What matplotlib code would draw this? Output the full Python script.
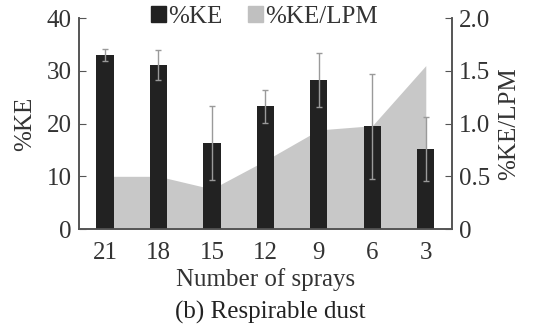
import numpy as np
import matplotlib
matplotlib.use("Agg")
import matplotlib.pyplot as plt
from matplotlib.patches import Patch

plt.rcParams["font.family"] = ["Liberation Serif", "DejaVu Serif"]

sprays = ["21", "18", "15", "12", "9", "6", "3"]
ke = [33.0, 31.1, 16.3, 23.3, 28.2, 19.5, 15.2]
ke_err = [1.2, 2.9, 7.0, 3.1, 5.1, 10.0, 6.0]
ke_lpm = [0.50, 0.50, 0.38, 0.65, 0.94, 0.98, 1.55]

x = np.arange(len(sprays))
fs = 18

fig = plt.figure(figsize=(5.4, 3.3), dpi=100)
ax = fig.add_axes([0.146, 0.306, 0.691, 0.639])
ax2 = ax.twinx()

# grey area on the right axis, behind the bars
ax2.fill_between(x, 0, ke_lpm, color="#c8c8c8", linewidth=0)
ax2.set_ylim(0, 2.0)
ax2.set_yticks([0, 0.5, 1.0, 1.5, 2.0])
ax2.set_yticklabels(["0", "0.5", "1.0", "1.5", "2.0"])
ax2.set_ylabel("%KE/LPM", fontsize=fs, color="#333333", labelpad=6)

ax.set_zorder(ax2.get_zorder() + 1)
ax.patch.set_visible(False)

ax.bar(x, ke, width=0.32, color="#222222", zorder=2)
ax.errorbar(x, ke, yerr=ke_err, fmt="none", ecolor="#9a9a9a", elinewidth=1,
            capsize=2.5, capthick=1, zorder=3)
ax.set_xlim(-0.49, 6.49)
ax.set_ylim(0, 40)
ax.set_yticks([0, 10, 20, 30, 40])
ax.set_xticks(x)
ax.set_xticklabels(sprays)
ax.set_ylabel("%KE", fontsize=fs, color="#333333", labelpad=8)
ax.set_xlabel("Number of sprays", fontsize=fs, color="#333333", labelpad=3)

for a in (ax, ax2):
    a.spines["top"].set_visible(False)
    for s in ("left", "right", "bottom"):
        a.spines[s].set_color("#555555")
        a.spines[s].set_linewidth(1.2)
ax.tick_params(axis="y", direction="in", length=5, color="#555555",
               labelsize=fs, labelcolor="#333333", pad=5)
ax2.tick_params(axis="y", direction="in", length=5, color="#555555",
                labelsize=fs, labelcolor="#333333", pad=5)
ax.tick_params(axis="x", length=0, labelsize=fs, labelcolor="#333333", pad=9)

handles = [Patch(color="#222222", label="%KE"),
           Patch(color="#c0c0c0", label="%KE/LPM")]
fig.legend(handles=handles, loc="center", bbox_to_anchor=(0.49, 0.948),
           ncol=2, frameon=False, fontsize=fs, handlelength=0.6,
           handleheight=0.6, handletextpad=0.1, columnspacing=1.0,
           labelcolor="#333333")

fig.text(0.5, 0.052, "(b) Respirable dust", ha="center", va="center",
         fontsize=fs, color="#222222")

fig.savefig("out.png", dpi=100)
